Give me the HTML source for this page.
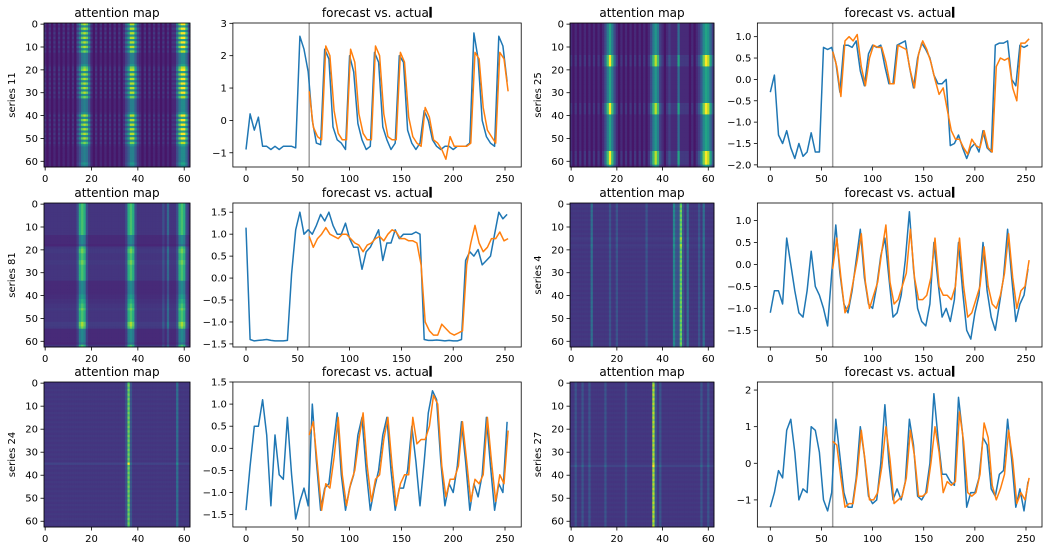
<!DOCTYPE html>
<html><head><meta charset="utf-8"><style>
html,body{margin:0;padding:0;background:#fff}
svg text{font-family:"DejaVu Sans","Liberation Sans",sans-serif;fill:#000}
</style></head><body>
<svg id="fig" xmlns="http://www.w3.org/2000/svg" width="1057" height="546" viewBox="0 0 1057 546"></svg>
<script>
// ---------- data ----------
const seriesNames = ["series 11","series 25","series 81","series 4","series 24","series 27"];
const xTicks = [0,50,100,150,200,250];
const heatXTicks = [0,20,40,60];
const heatYTicks = [0,10,20,30,40,50,60];
const actualStart = 0, actualStep = 4, forecastStart = 61, forecastStep = 4, splitAt = 61;

const actual11 = [-0.9,0.2,-0.3,0.1,-0.8,-0.8,-0.9,-0.8,-0.9,-0.8,-0.8,-0.8,-0.85,2.6,2.2,1.5,0.0,-0.7,-0.75,2.2,1.9,-0.2,-0.6,-0.7,-0.9,2.0,1.5,-0.1,-0.6,-0.9,-0.8,2.1,1.8,-0.2,-0.6,-0.9,-0.7,2.0,1.8,-0.3,-0.7,-0.9,-0.7,0.3,0.0,-0.6,-0.8,-0.9,-0.8,-0.8,-0.9,-0.8,-0.8,-0.8,-0.7,2.7,1.9,0.0,-0.5,-0.7,-0.8,2.6,2.3,1.2];
const forecast11 = [0.9,-0.2,-0.5,-0.6,2.3,2.0,0.3,-0.4,-0.6,-0.6,2.2,1.8,0.2,-0.4,-0.6,-0.6,2.3,2.0,0.2,-0.5,-0.6,-0.6,2.1,1.8,0.1,-0.5,-0.7,-0.8,0.4,0.1,-0.6,-0.7,-0.9,-1.2,-0.5,-0.8,-0.8,-0.8,-0.8,-0.7,2.1,1.9,0.4,-0.3,-0.5,-0.7,2.1,1.9,0.9];
const actual25 = [-0.3,0.1,-1.3,-1.5,-1.2,-1.6,-1.85,-1.5,-1.8,-1.7,-1.25,-1.7,-1.7,0.75,0.7,0.75,0.4,-0.3,0.8,0.8,0.75,0.9,0.2,-0.15,0.6,0.8,0.75,0.8,0.3,-0.1,-0.1,0.8,0.85,0.9,0.3,-0.2,0.5,0.85,0.7,0.5,0.1,-0.1,-0.1,0.0,-1.55,-1.5,-1.3,-1.6,-1.85,-1.6,-1.5,-1.7,-1.2,-1.6,-1.7,0.8,0.85,0.85,0.9,0.0,-0.15,0.8,0.75,0.8];
const forecast25 = [0.65,0.3,-0.4,0.9,1.0,0.9,1.05,0.3,-0.15,0.5,0.8,0.75,0.75,0.4,-0.1,-0.1,0.8,0.75,0.7,0.2,-0.2,0.6,0.9,0.7,0.4,0.0,-0.35,-0.2,-0.7,-1.2,-1.4,-1.4,-1.6,-1.75,-1.4,-1.55,-1.6,-1.2,-1.6,-1.7,0.3,0.5,0.45,0.5,-0.2,-0.5,0.85,0.85,0.95];
const actual81 = [1.15,-1.4,-1.43,-1.42,-1.41,-1.4,-1.42,-1.43,-1.43,-1.43,-1.42,0.1,1.1,1.5,1.0,1.1,1.0,1.2,1.45,1.3,1.5,1.2,1.0,1.0,1.25,0.9,0.7,0.7,0.2,0.6,0.7,0.9,1.1,0.4,0.8,0.8,1.1,0.9,1.0,1.0,1.0,1.05,1.0,-1.4,-1.42,-1.42,-1.41,-1.42,-1.43,-1.42,-1.43,-1.43,-1.4,0.4,0.6,0.5,0.65,0.3,0.4,0.5,1.0,1.5,1.35,1.45];
const forecast81 = [0.95,0.7,0.9,1.0,1.15,1.0,0.95,0.9,1.0,1.0,0.9,0.8,0.75,0.6,0.75,0.8,0.9,0.95,0.85,1.0,1.1,1.05,0.9,0.9,0.85,0.85,0.8,0.3,-1.0,-1.2,-1.3,-1.3,-1.05,-1.15,-1.25,-1.3,-1.25,-1.2,0.3,0.8,1.2,0.8,0.6,0.7,0.9,0.9,1.05,0.85,0.9];
const actual4 = [-1.1,-0.6,-0.6,-0.9,0.6,0.0,-0.6,-1.1,-1.2,-0.6,0.3,-0.5,-0.7,-1.0,-1.4,-0.2,0.9,-0.2,-0.9,-1.1,-0.6,0.1,0.8,-0.3,-0.9,-1.0,-0.5,0.2,0.6,-0.3,-1.2,-1.1,-0.7,0.1,1.2,-0.1,-1.0,-1.3,-1.4,-0.9,0.5,-0.4,-1.2,-1.0,-1.3,-0.8,0.5,-0.6,-1.5,-1.7,-1.1,-0.7,0.5,-0.6,-1.2,-1.5,-0.9,-0.3,0.8,-0.3,-1.3,-0.9,-0.7,-0.1];
const forecast4 = [-0.1,0.6,-0.3,-1.1,-0.9,-0.4,0.1,0.7,-0.4,-1.0,-0.7,-0.4,0.3,0.9,-0.4,-0.9,-0.8,-0.5,-0.2,0.8,-0.3,-0.8,-0.8,-0.7,-0.3,0.6,-0.5,-0.7,-0.7,-0.8,-0.5,0.6,-0.5,-1.2,-1.1,-0.8,-0.5,0.4,-0.5,-0.9,-1.0,-0.7,-0.2,0.7,-0.3,-1.0,-0.6,-0.5,0.1];
const actual24 = [-1.4,-0.4,0.5,0.5,1.1,0.3,-1.3,0.3,-0.6,-0.7,0.7,-0.6,-1.6,-1.2,-0.9,-1.3,1.0,-0.3,-1.4,-0.9,-0.8,0.0,0.8,-0.6,-1.4,-0.9,-0.6,0.3,0.7,-0.5,-1.4,-0.9,-0.5,0.3,0.7,-0.5,-1.4,-0.9,-0.9,-0.5,0.5,-0.3,-1.3,-0.3,0.8,1.3,1.1,-0.3,-1.3,-0.8,-1.0,-0.4,0.6,-0.3,-1.4,-0.8,-1.1,-0.6,0.7,-0.4,-1.4,-0.8,-1.0,0.6];
const forecast24 = [0.3,0.6,-0.4,-1.4,-0.8,-0.9,-0.2,0.7,-0.6,-1.3,-0.8,-0.5,0.2,0.8,-0.4,-1.2,-0.7,-0.6,0.2,0.7,-0.4,-1.3,-0.8,-0.6,-0.6,0.7,0.1,0.2,0.2,0.5,1.2,1.0,-0.4,-1.1,-0.7,-0.7,-0.4,0.6,-0.3,-1.2,-0.7,-0.8,-0.6,0.7,-0.3,-1.2,-0.6,-0.8,0.4];
const actual27 = [-1.2,-0.8,-0.2,-0.4,0.9,1.2,0.3,-1.0,-0.7,-0.8,1.0,0.9,0.3,-1.0,-1.3,-0.8,1.2,0.2,-0.8,-1.2,-1.2,-0.4,1.0,0.2,-0.9,-1.1,-1.0,0.0,1.6,0.0,-1.0,-0.7,-1.0,-0.5,1.2,0.5,-0.9,-1.0,-0.8,0.0,1.9,0.7,-0.3,-0.3,-0.5,-0.6,1.8,0.8,-1.2,-0.8,-0.8,-0.4,0.7,0.5,-0.7,-0.9,-0.3,-0.2,1.2,0.1,-1.2,-0.7,-1.3,-0.5];
const forecast27 = [0.6,0.5,-0.4,-1.2,-1.1,-1.1,-0.3,0.9,0.0,-1.0,-1.0,-0.8,-0.1,1.0,0.1,-1.1,-1.0,-0.9,-0.4,0.9,0.2,-0.9,-0.9,-0.8,0.0,1.0,0.3,-0.8,-0.5,-0.6,-0.5,1.4,0.6,-0.8,-0.9,-0.8,-0.3,1.1,0.7,-0.6,-1.0,-0.7,-0.3,0.9,0.1,-1.1,-0.8,-1.0,-0.4];

// heatmap column / row intensity profiles (0-9 scale)
const heatCols11 = [1,0,1,0,1,0,1,0,1,0,1,0,1,0,2,4,7,8,7,4,1,0,1,0,1,0,1,0,1,0,1,0,1,0,1,3,5,8,8,5,2,1,0,1,0,1,0,1,0,1,0,1,0,1,0,1,1,4,7,9,9,6,2];
const heatRows11 = [9,5,9,5,9,5,9,5,9,5,9,5,8,4,4,4,4,4,5,8,9,5,9,5,9,5,9,5,9,5,9,5,8,4,4,4,4,4,4,5,9,5,9,5,9,5,9,5,9,5,9,5,8,5,4,4,4,4,4,4,4,5,4];
const heatCols25 = [1,0,1,0,1,0,1,0,1,0,1,0,1,0,1,3,6,9,6,3,1,0,1,0,1,0,1,0,1,0,1,0,1,0,1,3,6,8,6,2,1,0,1,2,1,1,1,5,1,1,1,1,0,1,0,1,2,4,7,9,8,5,2];
const heatRows25 = [5,5,5,5,5,5,5,5,5,5,5,5,5,5,9,9,9,9,9,5,5,5,5,5,5,5,5,5,5,5,5,5,5,5,5,9,9,9,9,9,5,5,5,5,5,5,5,5,5,5,5,5,5,5,5,5,9,9,9,9,9,9,5];
const heatCols81 = [1,1,1,1,1,1,1,1,1,1,1,1,1,1,2,6,7,6,2,1,1,1,1,1,1,1,1,1,1,1,1,1,1,1,1,2,6,7,6,2,1,1,1,1,1,1,1,1,1,1,1,2,1,3,1,1,1,2,6,7,6,2,1];
const heatRows81 = [8,8,8,8,8,8,8,8,8,8,8,8,8,8,5,5,5,5,4,8,9,9,8,8,8,9,9,8,8,8,8,8,8,8,5,5,5,5,5,5,6,6,7,7,8,8,9,8,8,8,8,8,10,10,9,5,5,5,5,5,5,4,8];
const heatCols4 = [1,1,1,1,1,1,1,1,1,3,1,1,1,1,1,1,1,2,1,1,2,1,1,1,1,1,1,1,1,1,1,1,1,2,1,1,1,1,1,1,1,1,1,1,1,4,2,2,7,2,1,3,1,1,1,1,2,1,3,1,1,1,1];
const heatRows4 = [8,9,8,9,8,9,8,9,8,9,8,9,8,9,8,10,9,8,10,9,8,9,8,9,8,9,8,9,8,9,8,9,8,9,8,9,8,9,8,9,8,9,8,9,8,9,8,9,8,9,8,9,8,9,8,9,8,9,8,9,8,9,8];
const heatCols24 = [1,1,1,1,1,1,1,1,1,1,1,1,1,1,1,1,1,1,1,1,1,1,1,1,1,1,1,1,1,1,1,1,1,1,1,2,7,2,1,1,1,1,1,1,1,1,1,1,1,1,1,1,1,1,1,1,1,3,1,1,1,1,1];
const heatRows24 = [8,9,8,9,8,9,8,9,8,9,8,9,8,9,8,9,8,9,8,9,8,9,8,9,8,9,8,9,8,9,8,9,8,9,8,12,8,9,8,9,8,9,8,9,8,9,8,9,8,9,8,9,8,9,8,9,8,9,8,9,8,9,8];
const heatCols27 = [1,1,2,1,1,2,1,1,2,1,1,1,1,1,1,2,1,1,1,1,1,1,1,1,2,1,1,1,1,1,1,1,1,1,1,1,8,2,1,2,1,1,1,1,1,1,1,1,1,1,1,1,1,1,1,1,1,2,1,1,2,1,1];
const heatRows27 = [8,9,8,9,8,9,8,9,8,9,8,9,8,9,8,9,8,9,8,9,8,9,8,9,8,9,8,9,8,9,8,9,8,9,8,9,12,8,9,8,9,8,9,8,9,8,9,8,9,8,9,8,9,8,9,8,9,8,9,8,9,8,9];

// ---------- drawing ----------
const svg = document.getElementById('fig');
const NS = 'http://www.w3.org/2000/svg';
function mk(tag, attrs, parent){const e=document.createElementNS(NS,tag);for(const k in attrs)e.setAttribute(k,attrs[k]);(parent||svg).appendChild(e);return e;}
const vir=['#440154','#482475','#414487','#355f8d','#2a788e','#21918c','#22a884','#44bf70','#7ad151','#bddf26','#fde725'].map(h=>[parseInt(h.substr(1,2),16),parseInt(h.substr(3,2),16),parseInt(h.substr(5,2),16)]);
function viridis(v){v=Math.max(0,Math.min(1,v));const f=v*10,i=Math.min(9,Math.floor(f)),t=f-i;const a=vir[i],b=vir[i+1];return 'rgb('+a.map((c,k)=>Math.round(c+(b[k]-c)*t)).join(',')+')';}
const fmt = v => (v<0?'\u2212':'')+Math.abs(v);

const rowTop=[23,203,382], rowBot=[167,347,527];
const heatX=[[44,190],[570,714]];
const heatLabelX=[15,541];

function titleLine(parent,cx,y){
  const ti=mk('text',{x:cx,y:y,'font-size':12,'text-anchor':'middle'},parent);
  ti.appendChild(document.createTextNode('forecast vs. actua'));
  const ts=mk('tspan',{stroke:'#000','stroke-width':1.3},ti);ts.textContent='l';
  
  
}

function heatmap(ri,ci,cols,rows,name){
  const g=mk('g',{});
  
  
  const x0=heatX[ci][0],x1=heatX[ci][1],y0=rowTop[ri],y1=rowBot[ri];
  const n=cols.length, cw=(x1-x0)/n, ch=(y1-y0)/rows.length;
  for(let r=0;r<rows.length;r++)for(let c=0;c<n;c++){
    const v=0.06+0.94*(cols[c]/9)*(rows[r]/9);
    const e=mk('rect',{x:(x0+c*cw).toFixed(2),y:(y0+r*ch).toFixed(2),width:(cw+0.4).toFixed(2),height:(ch+0.4).toFixed(2),fill:viridis(v)},g);
    
    
  }
  const fr=mk('rect',{x:x0,y:y0,width:x1-x0,height:y1-y0,fill:'none',stroke:'#000','stroke-width':0.8});
  
  
  heatXTicks.forEach(t=>{
    const px=x0+(t+0.5)*cw;
    mk('line',{x1:px,x2:px,y1:y1,y2:y1+3.5,stroke:'#000','stroke-width':0.8});
    const tx=mk('text',{x:px,y:y1+15,'font-size':10,'text-anchor':'middle'});tx.textContent=t;
    
    
  });
  heatYTicks.forEach(t=>{
    const py=y0+(t+0.5)*ch;
    mk('line',{x1:x0-3.5,x2:x0,y1:py,y2:py,stroke:'#000','stroke-width':0.8});
    const ty=mk('text',{x:x0-6,y:py+3.5,'font-size':10,'text-anchor':'end'});ty.textContent=t;
    
    
  });
  const ti=mk('text',{x:(x0+x1)/2,y:y0-6,'font-size':12,'text-anchor':'middle'});ti.textContent='attention map';
  
  
  const yl=mk('text',{x:heatLabelX[ci],y:(y0+y1)/2,'font-size':10,'text-anchor':'middle',transform:'rotate(-90 '+heatLabelX[ci]+' '+(y0+y1)/2+')'});yl.textContent=name;
  
  
}

const lineCols=[{z:246,s:1.036},{z:770.3,s:1.0228}];
function lineChart(ri,ci,act,fc,ylim,yticks,name){
  const X=v=>lineCols[ci].z+v*lineCols[ci].s;
  const y0=rowTop[ri],y1=rowBot[ri];
  const Y=v=>y1-(v-ylim[0])/(ylim[1]-ylim[0])*(y1-y0);
  const ax0=X(-12.65),ax1=X(265.65);
  const g=mk('g',{});
  
  
  const clip=mk('clipPath',{id:'clip'+ri+ci},g);
  mk('rect',{x:ax0,y:y0,width:ax1-ax0,height:y1-y0},clip);
  const vl=mk('line',{x1:X(splitAt),x2:X(splitAt),y1:y0,y2:y1,stroke:'#a0a0a0','stroke-width':1.5},g);
  
  
  const pa=act.map((v,i)=>X(actualStart+i*actualStep).toFixed(1)+','+Y(v).toFixed(1)).join(' ');
  const la=mk('polyline',{points:pa,fill:'none',stroke:'#1f77b4','stroke-width':1.5,'stroke-linejoin':'round','clip-path':'url(#clip'+ri+ci+')'},g);
  
  
  const pf=fc.map((v,i)=>X(forecastStart+i*forecastStep).toFixed(1)+','+Y(v).toFixed(1)).join(' ');
  const lf=mk('polyline',{points:pf,fill:'none',stroke:'#ff7f0e','stroke-width':1.5,'stroke-linejoin':'round','clip-path':'url(#clip'+ri+ci+')'},g);
  
  
  const fr=mk('rect',{x:ax0,y:y0,width:ax1-ax0,height:y1-y0,fill:'none',stroke:'#000','stroke-width':0.8},g);
  
  
  xTicks.forEach(t=>{
    mk('line',{x1:X(t),x2:X(t),y1:y1,y2:y1+3.5,stroke:'#000','stroke-width':0.8},g);
    const tx=mk('text',{x:X(t),y:y1+15,'font-size':10,'text-anchor':'middle'},g);tx.textContent=t;
    
    
  });
  const dec = yticks.some(v=>v%1!==0);
  yticks.forEach(t=>{
    mk('line',{x1:ax0-3.5,x2:ax0,y1:Y(t),y2:Y(t),stroke:'#000','stroke-width':0.8},g);
    const lbl = dec ? (t<0?'\u2212':'')+Math.abs(t).toFixed(1) : fmt(t);
    const ty=mk('text',{x:ax0-6,y:Y(t)+3.5,'font-size':10,'text-anchor':'end'},g);ty.textContent=lbl;
    
    
  });
  titleLine(g,(ax0+ax1)/2,y0-6);
}

heatmap(0,0,heatCols11,heatRows11,seriesNames[0]);
lineChart(0,0,actual11,forecast11,[-1.44,3.01],[-1,0,1,2,3],seriesNames[0]);
heatmap(0,1,heatCols25,heatRows25,seriesNames[1]);
lineChart(0,1,actual25,forecast25,[-2.05,1.32],[-2,-1.5,-1,-0.5,0,0.5,1],seriesNames[1]);
heatmap(1,0,heatCols81,heatRows81,seriesNames[2]);
lineChart(1,0,actual81,forecast81,[-1.57,1.71],[-1.5,-1,-0.5,0,0.5,1,1.5],seriesNames[2]);
heatmap(1,1,heatCols4,heatRows4,seriesNames[3]);
lineChart(1,1,actual4,forecast4,[-1.88,1.40],[-1.5,-1,-0.5,0,0.5,1],seriesNames[3]);
heatmap(2,0,heatCols24,heatRows24,seriesNames[4]);
lineChart(2,0,actual24,forecast24,[-1.78,1.5],[-1.5,-1,-0.5,0,0.5,1,1.5],seriesNames[4]);
heatmap(2,1,heatCols27,heatRows27,seriesNames[5]);
lineChart(2,1,actual27,forecast27,[-1.74,2.22],[-1,0,1,2],seriesNames[5]);
</script>
</body></html>
